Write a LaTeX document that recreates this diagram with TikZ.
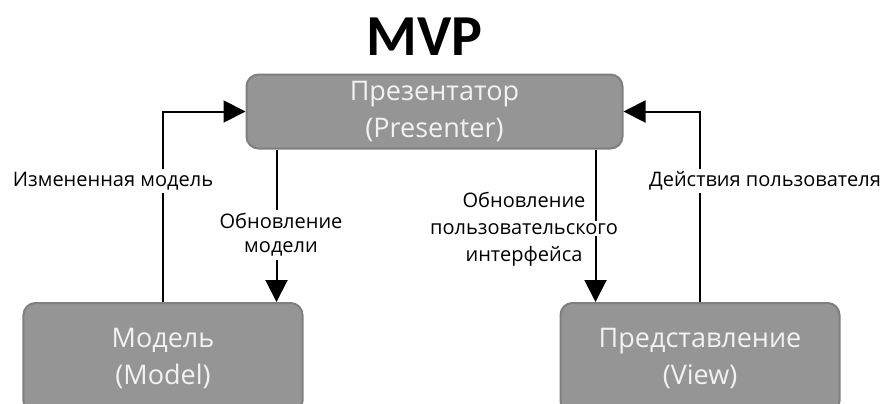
\documentclass[tikz,border=0pt]{standalone}
\usepackage{fontspec}
\setmainfont{Open Sans}
\newfontfamily\titlefont{Carlito}
\usetikzlibrary{arrows.meta}
\definecolor{boxfill}{HTML}{959595}
\definecolor{boxline}{HTML}{7F7F7F}
\definecolor{boxtext}{HTML}{F2F2F2}
\begin{document}
\begin{tikzpicture}[x=1bp,y=-1bp,
  box/.style={draw=boxline, line width=2bp, fill=boxfill, rounded corners=12bp,
    text=boxtext, font=\fontsize{27bp}{37bp}\selectfont, align=center, inner sep=0pt},
  arr/.style={line width=2bp, -{Triangle[length=22bp,width=22bp]}},
  lbl/.style={fill=white, font=\fontsize{20bp}{24bp}\selectfont, align=center, inner sep=3bp},
  lblplain/.style={font=\fontsize{20bp}{27bp}\selectfont, align=center, inner sep=0pt}]
\clip (0,0) rectangle (885,403);
\node[font=\titlefont\bfseries\fontsize{58bp}{60bp}\selectfont, anchor=base] (title) at (424.5,55) {MVP};
\node[box, minimum width=376bp, minimum height=74bp] (presenter) at (434.5,111.5) {Презентатор\\(Presenter)};
\node[box, minimum width=279bp, minimum height=110bp] (model) at (163,358) {Модель\\(Model)};
\node[box, minimum width=279bp, minimum height=110bp] (view) at (700,358) {Представление\\(View)};
\draw[arr] (model.north) |- (presenter.west);
\draw[arr] (view.north) |- (presenter.east);
\draw[arr] ([xshift=31bp]presenter.south west) -- ([xshift=31bp]presenter.south west |- model.north);
\draw[arr] ([xshift=-28bp]presenter.south east) -- ([xshift=-28bp]presenter.south east |- view.north);
\node[lbl] (l1) at (113,181) {Измененная модель};
\node[lbl] (l2) at (281,235) {Обновление\\модели};
\node[lblplain] (l3) at (524,229) {Обновление\\{\fboxsep=2bp\colorbox{white}{пользовательского}}\\интерфейса};
\node[lbl] (l4) at (765,181) {Действия пользователя};
\end{tikzpicture}
\end{document}
